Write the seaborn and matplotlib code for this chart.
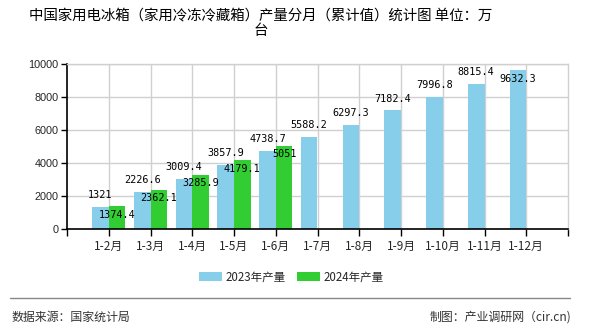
import matplotlib
matplotlib.use("Agg")
import matplotlib.pyplot as plt
import seaborn as sns
import pandas as pd
import numpy as np
from matplotlib.patches import Patch
from matplotlib.lines import Line2D

categories = ["1-2月", "1-3月", "1-4月", "1-5月", "1-6月", "1-7月", "1-8月",
              "1-9月", "1-10月", "1-11月", "1-12月"]
values_2023 = [1321, 2226.6, 3009.4, 3857.9, 4738.7, 5588.2, 6297.3,
               7182.4, 7996.8, 8815.4, 9632.3]
values_2024 = [1374.4, 2362.1, 3285.9, 4179.1, 5051, None, None, None, None, None, None]
labels_2023 = ["1321", "2226.6", "3009.4", "3857.9", "4738.7", "5588.2", "6297.3",
               "7182.4", "7996.8", "8815.4", "9632.3"]
labels_2024 = ["1374.4", "2362.1", "3285.9", "4179.1", "5051"]
series_names = ["2023年产量", "2024年产量"]
colors = ["#87CEEB", "#32CD32"]
title = "中国家用电冰箱（家用冷冻冷藏箱）产量分月（累计值）统计图 单位：万\n台"
yticks = [0, 2000, 4000, 6000, 8000, 10000]

sns.set_theme(style="white")
plt.rcParams['font.family'] = ['Noto Sans CJK SC', 'DejaVu Sans']

rows = []
for c, v in zip(categories, values_2023):
    rows.append({"cat": c, "series": series_names[0], "val": v})
for c, v in zip(categories, values_2024):
    rows.append({"cat": c, "series": series_names[1], "val": np.nan if v is None else v})
df = pd.DataFrame(rows)

fig = plt.figure(figsize=(5.9, 3.3), dpi=100)
ax = fig.add_axes([67/590, 1-229/330, (568-67)/590, (229-64)/330])

sns.barplot(data=df, x="cat", y="val", hue="series", order=categories,
            hue_order=series_names, palette=colors, width=0.8, dodge=True,
            saturation=1, ax=ax, legend=False, errorbar=None, linewidth=0,
            edgecolor="none")

ax.set_xlim(-1, 11)
ax.set_ylim(0, 10000)
ax.set_yticks(yticks)
ax.set_yticklabels([str(t) for t in yticks], family="Liberation Sans", fontsize=7.8)
ax.set_xticks(range(len(categories)))
ax.set_xticklabels(categories, fontsize=8.5)
ax.set_xticks([-1, 11], minor=True)
ax.tick_params(axis='x', which='both', length=5, width=1, color='black', direction='out',
               bottom=True, pad=3)
ax.tick_params(axis='y', length=4, width=1, color='black', direction='out', left=True, pad=2)
ax.set_xlabel("")
ax.set_ylabel("")
ax.set_axisbelow(True)
ax.grid(True, axis='both', color='#d0d0d0', linewidth=1)
for s in ["top", "right"]:
    ax.spines[s].set_color('#d0d0d0')
    ax.spines[s].set_linewidth(1)
for s in ["left", "bottom"]:
    ax.spines[s].set_color('black')
    ax.spines[s].set_linewidth(1.2)

# labels
lab_font = dict(family="DejaVu Sans Mono", fontsize=7.3, color="black")
for i, (v, t) in enumerate(zip(values_2023, labels_2023)):
    x = i - 0.2
    if v > 9000:
        ax.annotate(t, (x, v), xytext=(0, -2.5), textcoords="offset points",
                    ha="center", va="top", **lab_font)
    else:
        ax.annotate(t, (x, v), xytext=(0, 5), textcoords="offset points",
                    ha="center", va="bottom", **lab_font)
for i, (v, t) in enumerate(zip(values_2024[:len(labels_2024)], labels_2024)):
    x = i + 0.2
    ax.annotate(t, (x, v), xytext=(0, -2.5), textcoords="offset points",
                ha="center", va="top", **lab_font)

fig.text(261/590, 1-8/330, title, ha="center", va="top", fontsize=10.4,
         linespacing=1.2, color="black")

handles = [Patch(facecolor=colors[0], edgecolor='none'), Patch(facecolor=colors[1], edgecolor='none')]
fig.legend(handles, series_names, loc="center", bbox_to_anchor=(291/590, 1-277/330),
           ncol=2, frameon=False, fontsize=8.3, handlelength=2.0, handleheight=0.8,
           columnspacing=1.0, handletextpad=0.3)

fig.add_artist(Line2D([10/590, 570/590], [1-298/330, 1-298/330], color="#888888",
                      linewidth=1, transform=fig.transFigure))
fig.text(11/590, 1-317/330, "数据来源：国家统计局", ha="left", va="center", fontsize=8.6, color="#333333")
fig.text(571/590, 1-317/330, "制图：产业调研网（cir.cn)", ha="right", va="center", fontsize=8.6, color="#333333")

fig.savefig("out.png", dpi=100, facecolor="white")
